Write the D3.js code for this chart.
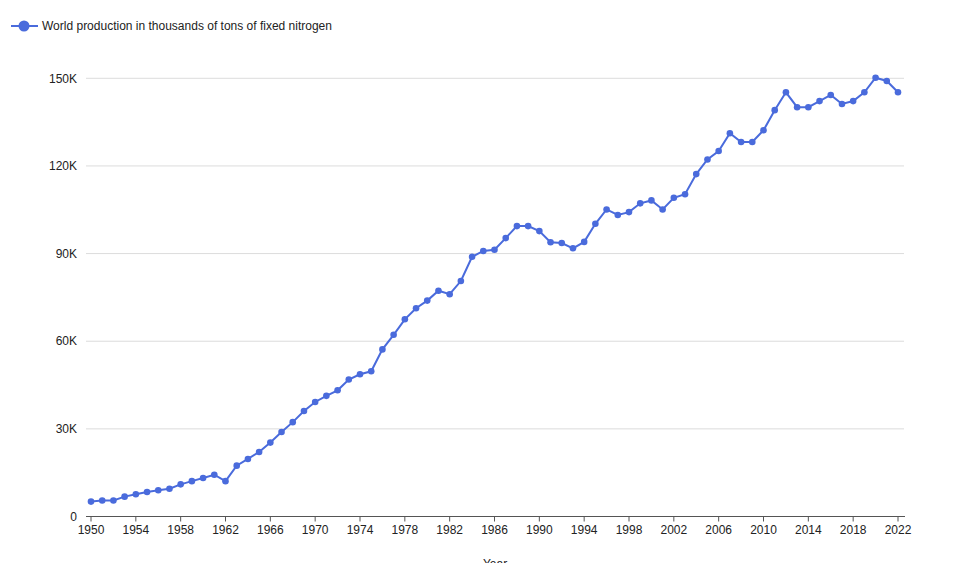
<!DOCTYPE html>
<html><head><meta charset="utf-8">
<script src="https://cdn.jsdelivr.net/npm/d3@7"></script>
<style>body{margin:0;background:#fff;}svg{display:block;font-family:"Liberation Sans",Arial,sans-serif;}</style>
</head><body><svg id="c" width="967" height="563"></svg>
<script>
const years = d3.range(1950, 2023);
const production = [5.1,5.5,5.5,6.8,7.6,8.4,9.0,9.5,11.0,12.1,13.2,14.3,12.1,17.4,19.7,22.1,25.3,28.9,32.3,36.1,39.2,
41.3,43.2,46.9,48.7,49.7,57.2,62.2,67.5,71.3,73.9,77.3,76.1,80.6,88.9,90.9,91.3,95.3,99.4,99.4,97.7,
93.9,93.6,91.8,94.0,100.2,105.1,103.2,104.2,107.2,108.2,105.1,109.1,110.3,117.2,122.2,125.1,131.2,128.2,128.2,132.2,
139.1,145.2,140.1,140.1,142.2,144.3,141.2,142.2,145.2,150.2,149.1,145.2].map(v=>v*1000);
const yTicks = [0,30000,60000,90000,120000,150000];
const xTicks = d3.range(1950, 2023, 4);
const seriesName = "World production in thousands of tons of fixed nitrogen";
const color = "#4a6bdc";

const svg = d3.select("#c");
const pLeft=86, pRight=904, pTop=78.3, pBottom=516.5;
const x = d3.scaleLinear().domain([1950,2022]).range([91,898]);
const y = d3.scaleLinear().domain([0,150000]).range([pBottom,pTop]);

// grid
svg.append("g").selectAll("line").data(yTicks.filter(d=>d>0)).join("line")
  .attr("x1",pLeft).attr("x2",pRight).attr("y1",d=>y(d)).attr("y2",d=>y(d))
  .attr("stroke","#dcdcdc").attr("stroke-width",1);

// y labels
svg.append("g").selectAll("text").data(yTicks).join("text")
  .attr("x",77).attr("y",d=>y(d)).attr("dy","0.35em").attr("text-anchor","end")
  .attr("font-size",12).attr("fill","#222")
  .text(d=>d===0?"0":d3.format("d")(d/1000)+"K");

// x axis
const xa = svg.append("g").attr("transform",`translate(0,${pBottom})`);
xa.append("line").attr("x1",pLeft).attr("x2",pRight+1).attr("stroke","#555").attr("stroke-width",1.2);
xa.selectAll("line.t").data(xTicks).join("line").attr("class","t")
  .attr("x1",d=>x(d)).attr("x2",d=>x(d)).attr("y1",0).attr("y2",5).attr("stroke","#555");
xa.selectAll("text").data(xTicks).join("text")
  .attr("x",d=>x(d)).attr("y",17).attr("text-anchor","middle").attr("font-size",12).attr("fill","#222")
  .text(d=>d);
svg.append("text").attr("x",495).attr("y",568).attr("text-anchor","middle")
  .attr("font-size",12).attr("fill","#222").text("Year");

// line
const data = years.map((yr,i)=>({yr,v:production[i]}));
svg.append("path").datum(data)
  .attr("d",d3.line().x(d=>x(d.yr)).y(d=>y(d.v)))
  .attr("fill","none").attr("stroke",color).attr("stroke-width",2);
svg.append("g").selectAll("circle").data(data).join("circle")
  .attr("cx",d=>x(d.yr)).attr("cy",d=>y(d.v)).attr("r",3.3).attr("fill",color);

// legend
const lg = svg.append("g");
lg.append("line").attr("x1",11).attr("x2",38).attr("y1",26).attr("y2",26).attr("stroke",color).attr("stroke-width",2);
lg.append("circle").attr("cx",24).attr("cy",26).attr("r",5.5).attr("fill",color);
lg.append("text").attr("x",42).attr("y",26).attr("dy","0.35em").attr("font-size",12).attr("fill","#222").text(seriesName);
</script></body></html>
